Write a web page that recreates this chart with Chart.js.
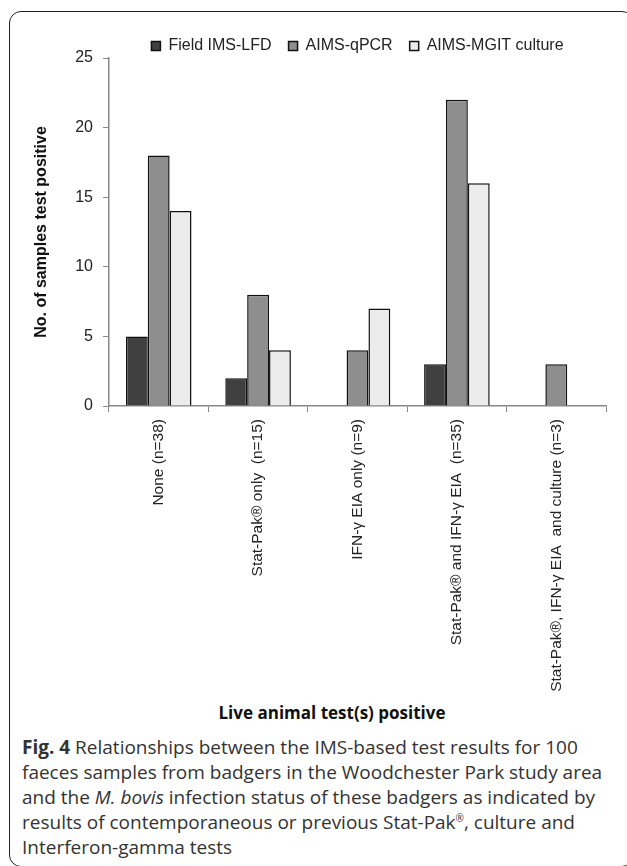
<!DOCTYPE html>
<html>
<head>
<meta charset="utf-8">
<script src="https://cdn.jsdelivr.net/npm/chart.js@4/dist/chart.umd.min.js"></script>
<style>
  body { margin: 0; background: #fff; width: 627px; height: 866px; overflow: hidden; position: relative; }
  #frame { position: absolute; left: 9px; top: 11px; width: 625px; height: 856px; border: 1.5px solid #222; border-radius: 12px; box-sizing: border-box; }
  #wrap { position: absolute; left: 0; top: 0; width: 627px; height: 700px; }
  #xtitle { position: absolute; left: 132px; width: 400px; top: 700px; text-align: center; font-family: "Open Sans", sans-serif; font-weight: bold; font-size: 17px; line-height: 26px; color: #111; }
  #caption { position: absolute; left: 22px; top: 735px; width: 605px; font-family: "Open Sans", sans-serif; font-size: 19px; line-height: 25px; color: #333; white-space: nowrap; }
  #caption sup { font-size: 10px; line-height: 0; vertical-align: 7px; }
</style>
</head>
<body>
<div id="frame"></div>
<div id="wrap"><canvas id="barchart"></canvas></div>
<div id="xtitle">Live animal test(s) positive</div>
<div id="caption"><b>Fig. 4</b> Relationships between the IMS-based test results for 100<br>faeces samples from badgers in the Woodchester Park study area<br>and the <i>M. bovis</i> infection status of these badgers as indicated by<br>results of contemporaneous or previous Stat-Pak<sup>®</sup>, culture and<br>Interferon-gamma tests</div>
<script>
// données
const categories = [
    "None (n=38)",
    "Stat-Pak® only  (n=15)",
    "IFN-γ EIA only (n=9)",
    "Stat-Pak® and IFN-γ EIA  (n=35)",
    "Stat-Pak®, IFN-γ EIA  and culture (n=3)"
];
const fieldLfd = [5, 2, 0, 3, 0];
const aimsQpcr = [18, 8, 4, 22, 3];
const aimsMgit = [14, 4, 7, 16, 0];
const yTicks = [0, 5, 10, 15, 20, 25];

// légende un peu moins haute que par défaut
const legendFit = {
    id: 'legendFit',
    beforeInit(chart) {
        const orig = chart.legend.fit;
        chart.legend.fit = function () {
            orig.bind(chart.legend)();
            this.height -= 6;
        };
    }
};

const ctx = document.getElementById('barchart').getContext('2d');
let barchart = new Chart(ctx, {
    type: 'bar',
    data: {
        labels: categories,
        datasets: [
            { label: 'Field IMS-LFD', data: fieldLfd, backgroundColor: '#404040', borderColor: '#111', borderWidth: 1.5 },
            { label: 'AIMS-qPCR', data: aimsQpcr, backgroundColor: '#8e8e8e', borderColor: '#111', borderWidth: 1.5 },
            { label: 'AIMS-MGIT culture', data: aimsMgit, backgroundColor: '#ececec', borderColor: '#111', borderWidth: 1.5 }
        ]
    },
    plugins: [legendFit],
    options: {
        responsive: true,
        maintainAspectRatio: false,
        animation: false,
        categoryPercentage: 0.66,
        barPercentage: 1.0,
        layout: { padding: { top: 21, left: 32, right: 21, bottom: 0 } },
        plugins: {
            legend: {
                position: 'top',
                fullSize: false,
                labels: {
                    font: { family: 'Arial, "Liberation Sans"', size: 16 },
                    color: '#222',
                    boxWidth: 9,
                    boxHeight: 9,
                    padding: 17
                }
            },
            tooltip: { enabled: false }
        },
        scales: {
            x: {
                afterFit: function (scale) { scale.height = 700 - 406; },
                grid: { offset: true, drawOnChartArea: false, tickLength: 6, color: '#888' },
                border: { color: '#888', width: 1.5 },
                ticks: {
                    minRotation: 90,
                    maxRotation: 90,
                    autoSkip: false,
                    padding: 7,
                    font: { family: 'Arial, "Liberation Sans"', size: 15.5 },
                    color: '#222'
                }
            },
            y: {
                min: 0,
                max: 25,
                afterFit: function (scale) { scale.width = 109 - 32; },
                afterBuildTicks: function (scale) {
                    scale.ticks = yTicks.map(v => ({ value: v }));
                },
                grid: { drawOnChartArea: false, tickLength: 6, color: '#888' },
                border: { color: '#888', width: 1.5 },
                ticks: {
                    padding: 10,
                    font: { family: 'Arial, "Liberation Sans"', size: 16 },
                    color: '#222'
                },
                title: {
                    display: true,
                    text: 'No. of samples test positive',
                    font: { family: 'Arial, "Liberation Sans"', size: 16, weight: 'bold' },
                    color: '#111',
                    padding: { top: 0, bottom: 10 }
                }
            }
        }
    }
});
</script>
</body>
</html>
